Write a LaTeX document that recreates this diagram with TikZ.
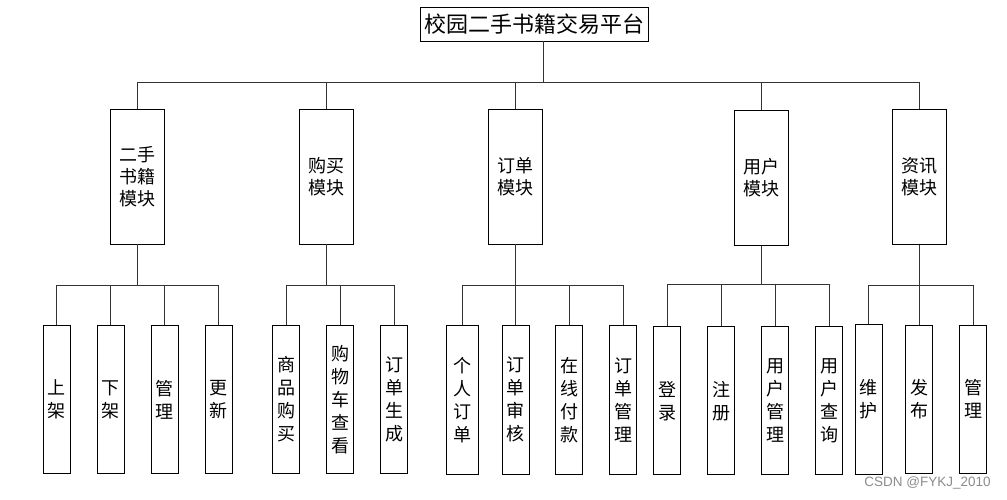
\documentclass[tikz,border=0pt]{standalone}
\usepackage{fontspec}
\newfontfamily\cjk{Noto Sans CJK SC}
\newfontfamily\wm{Liberation Sans}
\begin{document}
\begin{tikzpicture}[x=1pt,y=-1pt,
  box/.style={draw=black, line width=0.9pt, inner sep=0pt, align=center, fill=white},
  rootbox/.style={box, minimum width=228pt, minimum height=34pt, font=\cjk\fontsize{22}{24}\selectfont},
  modbox/.style={box, minimum width=54pt, minimum height=135pt, font=\cjk\fontsize{18}{22}\selectfont},
  leafbox/.style={box, minimum width=27pt, minimum height=148.5pt, font=\cjk\fontsize{18}{23}\selectfont},
  conn/.style={draw=black!80, line width=0.9pt}]
\useasboundingbox (0,0) rectangle (1007,499);
\fill[white] (0,0) rectangle (1007,499);

\node[rootbox] (root) at (534,24) {校园二手书籍交易平台};

\node[modbox] (m1) at (137.7,176.5) {二手\\书籍\\模块};
\node[modbox] (m2) at (326,176.5) {购买\\模块};
\node[modbox] (m3) at (515.7,176.5) {订单\\模块};
\node[modbox] (m4) at (761.5,178) {用户\\模块};
\node[modbox] (m5) at (919,177) {资讯\\模块};

% group 1
\node[leafbox] (a1) at (56.8,399.5) {上\\架};
\node[leafbox] (a2) at (110.8,399.5) {下\\架};
\node[leafbox] (a3) at (164.8,399.5) {管\\理};
\node[leafbox] (a4) at (218.8,399.5) {更\\新};
% group 2
\node[leafbox] (b1) at (286.2,399.5) {商\\品\\购\\买};
\node[leafbox] (b2) at (340.2,399.5) {购\\物\\车\\查\\看};
\node[leafbox] (b3) at (394.2,399.5) {订\\单\\生\\成};
% group 3
\node[leafbox, minimum width=32pt] (c1) at (462.7,399.8) {个\\人\\订\\单};
\node[leafbox] (c2) at (515.7,399.8) {订\\单\\审\\核};
\node[leafbox] (c3) at (569.3,399.8) {在\\线\\付\\款};
\node[leafbox] (c4) at (623.3,399.8) {订\\单\\管\\理};
% group 4
\node[leafbox, minimum height=148pt] (d1) at (667,400.7) {登\\录};
\node[leafbox, minimum height=148pt] (d2) at (721.2,400.7) {注\\册};
\node[leafbox, minimum height=148pt] (d3) at (775,400.7) {用\\户\\管\\理};
\node[leafbox, minimum height=148pt] (d4) at (829.2,400.7) {用\\户\\查\\询};
% group 5
\node[leafbox, minimum height=150.7pt] (e1) at (868.5,399.35) {维\\护};
\node[leafbox] (e2) at (919.2,399.3) {发\\布};
\node[leafbox] (e3) at (973,399.3) {管\\理};

% root connectors
\coordinate (rs) at ([xshift=9pt]root.south);
\foreach \m in {m1,m2,m3,m4,m5}
  \path[conn] (rs) -- ++(0,41) -| (\m.north);

% module connectors
\foreach \l in {a1,a2,a3,a4}
  \path[conn] (m1.south) -- ++(0,41) -| (\l.north);
\foreach \l in {b1,b2,b3}
  \path[conn] (m2.south) -- ++(0,41) -| (\l.north);
\foreach \l in {c1,c2,c3,c4}
  \path[conn] (m3.south) -- ++(0,41) -| (\l.north);
\foreach \l in {d1,d2,d3,d4}
  \path[conn] (m4.south) -- ++(0,38.5) -| (\l.north);
\foreach \l in {e1,e2,e3}
  \path[conn] (m5.south) -- ++(0,40.5) -| (\l.north);

\node[text=black!45, font=\wm\fontsize{13.5}{15}\selectfont, inner sep=0pt] (wm) at (927.5,483) {CSDN @FYKJ\_2010};
\end{tikzpicture}
\end{document}
